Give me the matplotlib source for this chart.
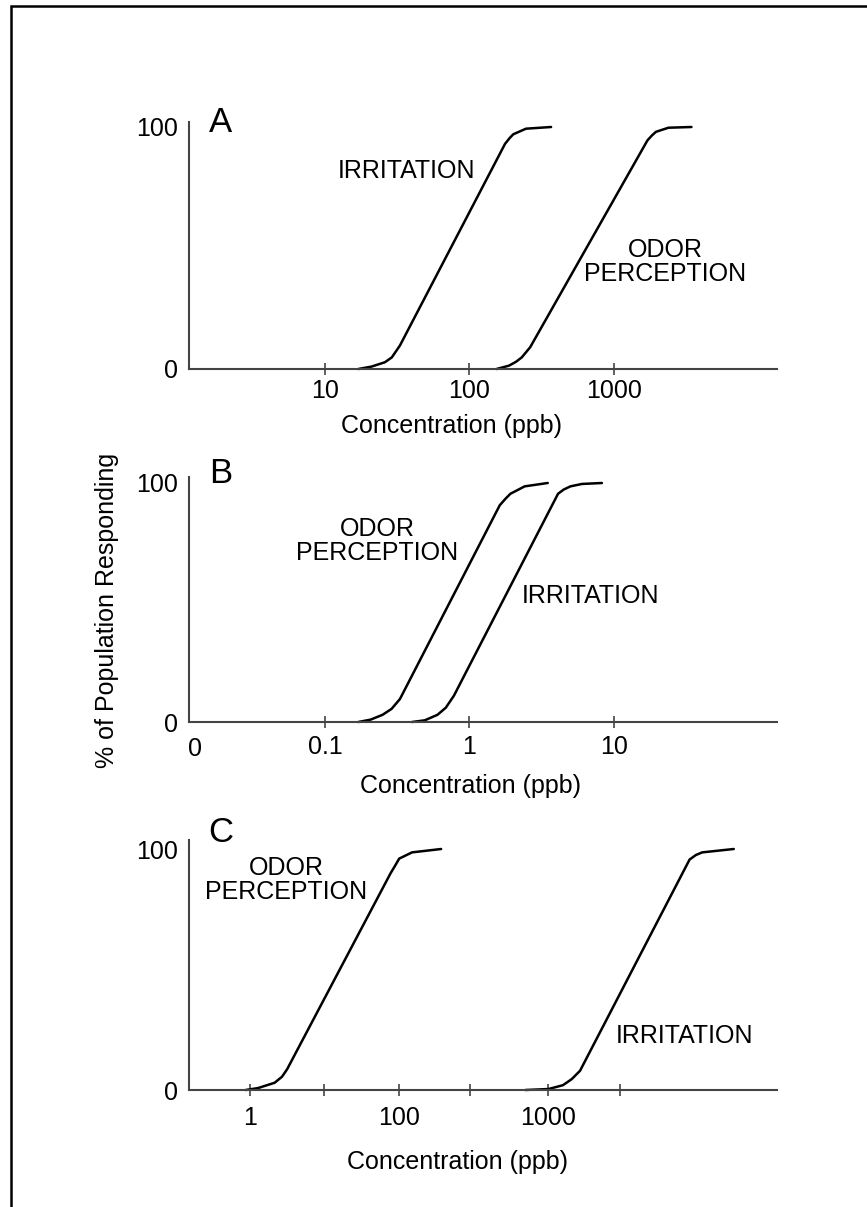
import matplotlib
matplotlib.use('Agg')
import matplotlib.pyplot as plt
from matplotlib.patches import Rectangle
import numpy as np

# ------------------------------------------------------------
# Dose-response curves
# concentration in ppb, % of population responding
# ------------------------------------------------------------
# Panel A
a_irr_conc = [17, 21, 26, 29, 33, 176, 190, 201, 246, 367]
a_irr_pct = [0, 1, 2.8, 4.8, 9.7, 93, 95.5, 97, 99.3, 100]
a_odor_conc = [154, 188, 210, 230, 263, 1705, 1830, 1950, 2380, 3435]
a_odor_pct = [0, 1.4, 3, 4.8, 9, 94.5, 96.5, 98, 99.7, 100]

# Panel B
b_odor_conc = [0.17, 0.207, 0.25, 0.289, 0.33, 1.62, 1.78, 1.92, 2.41, 3.48]
b_odor_pct = [0, 1, 3, 5.5, 9.6, 90.7, 93.5, 95.5, 98.6, 100]
b_irr_conc = [0.40, 0.49, 0.6, 0.686, 0.78, 4.1, 4.5, 5.0, 6.0, 8.25]
b_irr_pct = [0, 0.7, 3, 6, 11, 95.5, 97.3, 98.6, 99.6, 100]

# Panel C
c_odor_conc = [0.88, 1.29, 2.15, 2.7, 3.16, 77, 90, 100, 122, 191]
c_odor_pct = [0, 0.8, 3, 5.5, 8.6, 90, 93.5, 96, 98.6, 100]
c_irr_conc = [700, 1000, 1250, 1430, 1627, 8800, 9700, 10700, 17400]
c_irr_pct = [0, 0.4, 2, 4.5, 8, 95.6, 97.5, 98.6, 100]

# tick labels
a_ticks = [10, 100, 1000]
b_ticks = [0.1, 1, 10]
c_ticks = [1, 100, 1000]
c_minor_ticks = [10, 300, 3000]

W, H = 867, 1207
AX_COLOR = '#444444'

plt.rcParams.update({
    'font.family': 'Liberation Sans',
    'font.size': 18,
})

fig = plt.figure(figsize=(W / 100, H / 100), dpi=100)


def fx(x):
    return x / W


def fy(y):
    return 1 - y / H


def make_axes(top, bottom, y100, left=189, right=777):
    ax = fig.add_axes([fx(left), fy(bottom), (right - left) / W, (bottom - top) / H])
    ax.set_ylim(0, 100 * (bottom - top) / (bottom - y100))
    for s in ['top', 'right']:
        ax.spines[s].set_visible(False)
    for s in ['left', 'bottom']:
        ax.spines[s].set_linewidth(1.5)
        ax.spines[s].set_color(AX_COLOR)
    ax.set_yticks([0, 100], labels=['0', '100'])
    ax.tick_params(axis='y', length=0, pad=8)
    ax.tick_params(axis='x', which='both', direction='inout', length=9,
                   width=1.2, color=AX_COLOR)
    return ax


def curve(ax, x, y):
    ax.plot(x, y, color='black', lw=1.8, solid_joinstyle='round',
            solid_capstyle='round', clip_on=False)


# ============================================================
# Panel A
# ============================================================
axA = make_axes(122, 369, 127)
axA.set_xscale('log')
axA.set_xlim(1.145, 13430)
axA.set_xticks(a_ticks, labels=[str(t) for t in a_ticks])
axA.set_xticks([], minor=True)
axA.tick_params(axis='x', pad=3)
curve(axA, a_irr_conc, a_irr_pct)
curve(axA, a_odor_conc, a_odor_pct)

# ============================================================
# Panel B
# ============================================================
axB = make_axes(477, 722, 483)
axB.set_xscale('log')
axB.set_xlim(0.01145, 134.3)
axB.set_xticks(b_ticks, labels=[str(t) for t in b_ticks])
axB.set_xticks([0.0126], labels=['0'], minor=True)
axB.tick_params(axis='x', pad=5)
axB.tick_params(axis='x', which='minor', length=0, pad=11)
curve(axB, b_odor_conc, b_odor_pct)
curve(axB, b_irr_conc, b_irr_pct)


# ============================================================
# Panel C  (axis is stretched: 1->100 spans the same as 100->1000)
# ============================================================
def c_forward(x):
    t = np.log10(np.clip(x, 1e-12, None))
    return np.where(t < 2, t / 2, t - 1)


def c_inverse(u):
    u = np.asarray(u, dtype=float)
    return np.where(u < 1, 10 ** (2 * u), 10 ** (u + 1))


axC = make_axes(840, 1090, 849)
axC.set_xscale('function', functions=(c_forward, c_inverse))
axC.set_xlim(float(c_inverse(-0.407)), float(c_inverse(3.53)))
axC.set_xticks(c_ticks, labels=[str(t) for t in c_ticks])
axC.set_xticks(c_minor_ticks, labels=['' for _ in c_minor_ticks], minor=True)
axC.tick_params(axis='x', which='both', pad=7)
curve(axC, c_odor_conc, c_odor_pct)
curve(axC, c_irr_conc, c_irr_pct)

# ============================================================
# Text
# ============================================================
for letter, (x, y) in zip('ABC', [(221, 122), (221, 474), (221, 832)]):
    fig.text(fx(x), fy(y), letter, fontsize=25, ha='center', va='center')

notes = [
    ('IRRITATION', 407, 171),
    ('ODOR\nPERCEPTION', 665, 262),
    ('ODOR\nPERCEPTION', 377, 541),
    ('IRRITATION', 591, 596),
    ('ODOR\nPERCEPTION', 286, 880),
    ('IRRITATION', 684, 1036),
]
for txt, x, y in notes:
    fig.text(fx(x), fy(y), txt, ha='center', va='center', linespacing=1.0)

for x, y in [(452, 426), (470, 786), (458, 1162)]:
    fig.text(fx(x), fy(y), 'Concentration (ppb)', ha='center', va='center')

fig.text(fx(107), fy(610), '% of Population Responding', rotation=90,
         ha='center', va='center')

# frame round the figure (runs off the right and bottom edges)
fig.add_artist(Rectangle((fx(11), -1), 5, 2 - 6 / H, transform=fig.transFigure,
                         fill=False, lw=1.8, edgecolor='black', clip_on=False))

fig.savefig('out.png', dpi=100)
